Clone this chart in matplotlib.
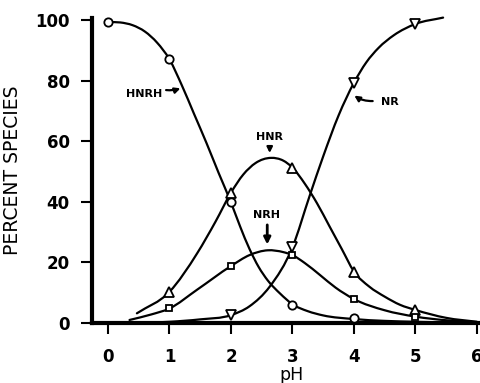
import numpy as np
import matplotlib
matplotlib.use("Agg")
import matplotlib.pyplot as plt
from matplotlib.path import Path
from matplotlib.patches import PathPatch

# ---- data ----
hnrh_mark_x = [0, 1, 2, 3, 4]
hnrh_mark_y = [99.3, 87.3, 39.8, 6.0, 1.5]
hnrh_curve_x = [0, 0.2, 0.4, 0.6, 0.8, 1.0, 1.2, 1.4, 1.6, 1.8, 2.0, 2.15, 2.3, 2.45, 2.6, 2.8, 3.0, 3.25, 3.5, 4.0, 4.5, 5.0, 6.0]
hnrh_curve_y = [99.3, 99.2, 98.3, 96.2, 92.5, 87.0, 78.5, 69.0, 59.5, 49.5, 39.8, 31.8, 24.5, 18.5, 14.0, 9.7, 6.2, 3.9, 2.5, 1.3, 0.7, 0.4, 0.0]

hnr_mark_x = [1, 2, 3, 4, 5]
hnr_mark_y = [10.3, 43.0, 51.0, 16.9, 4.3]
hnr_curve_x = [0.47, 1.0, 1.45, 1.75, 2.0, 2.2, 2.4, 2.65, 2.85, 3.0, 3.2, 3.4, 3.6, 3.8, 4.0, 4.25, 4.5, 4.75, 5.0, 5.5, 6.0]
hnr_curve_y = [3.2, 10.3, 23.0, 33.5, 43.0, 49.0, 52.8, 54.5, 53.6, 51.3, 46.0, 39.5, 32.0, 24.5, 17.0, 12.0, 8.7, 6.0, 4.3, 1.7, 0.4]

nrh_mark_x = [1, 2, 3, 4, 5]
nrh_mark_y = [4.8, 18.8, 22.4, 7.9, 2.1]
nrh_curve_x = [0.35, 0.7, 1.0, 1.45, 2.0, 2.3, 2.6, 2.85, 3.0, 3.2, 3.45, 3.7, 4.0, 4.5, 5.0, 5.5, 6.0]
nrh_curve_y = [1.0, 2.8, 4.8, 11.0, 18.8, 22.4, 24.0, 23.4, 22.4, 19.8, 15.8, 11.7, 7.9, 4.2, 2.1, 0.9, 0.3]

nr_mark_x = [2, 3, 4, 5]
nr_mark_y = [2.6, 25.0, 79.3, 98.7]
nr_curve_x = [0.5, 1.0, 1.5, 2.0, 2.3, 2.63, 3.0, 3.28, 3.5, 3.75, 4.0, 4.2, 4.4, 4.65, 5.0, 5.45]
nr_curve_y = [0.0, 0.4, 1.2, 2.6, 5.5, 12.0, 25.0, 42.0, 55.0, 68.5, 79.3, 86.0, 90.8, 95.0, 98.7, 100.8]

x_ticks = [0, 1, 2, 3, 4, 5, 6]
y_ticks = [0, 20, 40, 60, 80, 100]

labels = ["HNRH", "HNR", "NRH", "NR"]


def smooth_path(xs, ys):
    """Cubic Hermite curve through the points, drawn with Bezier segments."""
    xs = np.asarray(xs, float)
    ys = np.asarray(ys, float)
    h = np.diff(xs)
    d = np.diff(ys) / h
    n = len(xs)
    m = np.zeros(n)
    m[0] = d[0]
    m[-1] = d[-1]
    for i in range(1, n - 1):
        m[i] = (d[i - 1] * h[i] + d[i] * h[i - 1]) / (h[i - 1] + h[i])
    verts = [(xs[0], ys[0])]
    codes = [Path.MOVETO]
    for i in range(n - 1):
        verts += [(xs[i] + h[i] / 3, ys[i] + m[i] * h[i] / 3),
                  (xs[i + 1] - h[i] / 3, ys[i + 1] - m[i + 1] * h[i] / 3),
                  (xs[i + 1], ys[i + 1])]
        codes += [Path.CURVE4] * 3
    return Path(verts, codes)


fig = plt.figure(figsize=(4.8, 3.83), dpi=100)
ax = fig.add_axes([92 / 480, 1 - 323 / 383, 388 / 480, 306 / 383])
ax.set_xlim(-0.26, 6.05)
ax.set_ylim(0, 101)

lw = 1.6
for cx, cy in [(hnrh_curve_x, hnrh_curve_y), (hnr_curve_x, hnr_curve_y),
               (nrh_curve_x, nrh_curve_y), (nr_curve_x, nr_curve_y)]:
    ax.add_patch(PathPatch(smooth_path(cx, cy), facecolor="none",
                           edgecolor="black", lw=lw, zorder=2, clip_on=False,
                           joinstyle="round", capstyle="round"))

mk = dict(ls="none", mfc="white", mec="black", mew=1.3, zorder=4, clip_on=False)
ax.plot(hnrh_mark_x, hnrh_mark_y, marker="o", ms=6, **mk)
ax.plot(hnr_mark_x, hnr_mark_y, marker="^", ms=6.5, **mk)
ax.plot(nrh_mark_x, nrh_mark_y, marker="s", ms=4.5, **mk)
ax.plot(nr_mark_x, nr_mark_y, marker="v", ms=6.5, **mk)

# annotations
afs = 8
ax.text(0.58, 75.5, labels[0], fontsize=afs, fontweight="bold", ha="center", va="center")
ax.annotate("", xy=(1.22, 77.8), xytext=(0.9, 77.0),
            arrowprops=dict(arrowstyle="-|>", lw=1.6, color="black",
                            mutation_scale=8, connectionstyle="arc3,rad=0.15"))
ax.text(2.63, 61.5, labels[1], fontsize=afs, fontweight="bold", ha="center", va="center")
ax.annotate("", xy=(2.63, 55.2), xytext=(2.63, 59.3),
            arrowprops=dict(arrowstyle="-|>", lw=1.6, color="black", mutation_scale=8))
ax.text(2.57, 35.6, labels[2], fontsize=afs, fontweight="bold", ha="center", va="center")
ax.annotate("", xy=(2.59, 25.0), xytext=(2.59, 33.3),
            arrowprops=dict(arrowstyle="-|>", lw=2.0, color="black", mutation_scale=10))
ax.text(4.58, 73.0, labels[3], fontsize=afs, fontweight="bold", ha="center", va="center")
ax.annotate("", xy=(3.97, 75.6), xytext=(4.35, 73.3),
            arrowprops=dict(arrowstyle="-|>", lw=1.6, color="black",
                            mutation_scale=8, connectionstyle="arc3,rad=-0.2"))

for s in ["top", "right"]:
    ax.spines[s].set_visible(False)
ax.spines["left"].set_linewidth(3)
ax.spines["bottom"].set_linewidth(3)
ax.spines["left"].set_bounds(0, 100.8)

ax.set_xticks(x_ticks)
ax.set_yticks(y_ticks)
ax.set_xticklabels([str(v) for v in x_ticks])
ax.set_yticklabels([str(v) for v in y_ticks])
ax.tick_params(axis="both", direction="out", length=8, width=1.5, labelsize=12)
ax.tick_params(axis="y", pad=8)
ax.tick_params(axis="x", pad=10)
for t in ax.get_xticklabels() + ax.get_yticklabels():
    t.set_fontweight("bold")

ax.set_xlabel("pH", fontsize=12.5)
ax.xaxis.set_label_coords(0.513, -0.14)
ax.set_ylabel("PERCENT SPECIES", fontsize=13.5)
ax.yaxis.set_label_coords(-0.18, 0.5)

fig.savefig("out.png", dpi=100)
